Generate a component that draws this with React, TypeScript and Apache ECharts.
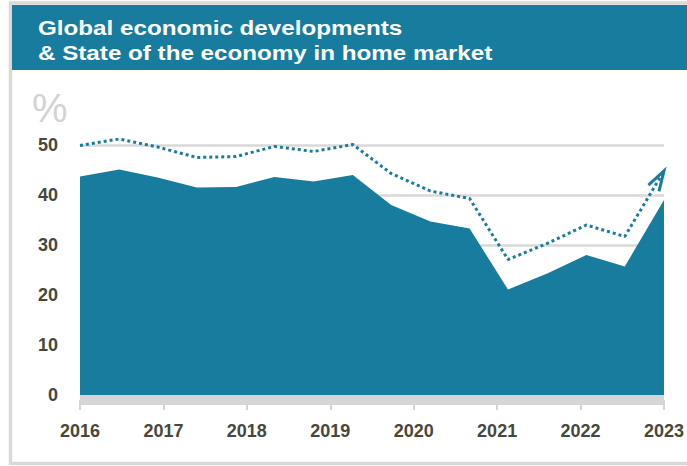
import React, { useEffect, useRef } from "react";
import * as echarts from "echarts";

const titleLines = ["Global economic developments", "& State of the economy in home market"];
const unitLabel = "%";
const yearTicks = [2016, 2017, 2018, 2019, 2020, 2021, 2022, 2023];
const surveyDates = [
  2016, 2016.47, 2016.93, 2017.4, 2017.87, 2018.33, 2018.8, 2019.27,
  2019.73, 2020.2, 2020.67, 2021.13, 2021.6, 2022.07, 2022.53, 2023,
];
const homeMarket = [43.7, 45.1, 43.5, 41.5, 41.6, 43.6, 42.7, 44, 38, 34.7, 33.3, 21.1, 24.3, 28, 25.7, 39];
const globalEconomy = [49.9, 51.2, 49.6, 47.5, 47.7, 49.7, 48.7, 50.1, 44.3, 40.8, 39.3, 27.1, 30.3, 34, 31.7, 44.8];

const TEAL = "#177c9d";
const LABEL = "#48473b";
const FONT = "'Liberation Sans', Arial, sans-serif";

export default function App() {
  const ref = useRef<HTMLDivElement>(null);
  useEffect(() => {
    document.body.style.margin = "0";
    if (!ref.current) return;
    const chart = echarts.init(ref.current, undefined, { renderer: "svg" });
    const n = surveyDates.length;
    const option: any = {
      animation: false,
      backgroundColor: "#ffffff",
      grid: { left: 80, right: 21, top: 145, bottom: 71, containLabel: false },
      xAxis: {
        type: "value",
        min: yearTicks[0],
        max: yearTicks[yearTicks.length - 1],
        interval: 1,
        offset: 5,
        axisLine: { show: true, onZero: false, lineStyle: { color: "#d5d5d5", width: 10, cap: "butt" } },
        axisTick: { show: true, length: 10, lineStyle: { color: "#d5d5d5", width: 2 } },
        splitLine: { show: false },
        axisLabel: {
          color: LABEL,
          fontFamily: FONT,
          fontWeight: "bold",
          fontSize: 18,
          margin: 22,
          showMinLabel: true,
          showMaxLabel: true,
          formatter: (v: number) => String(Math.round(v)),
        },
      },
      yAxis: {
        type: "value",
        min: 0,
        max: 50,
        interval: 10,
        axisLine: { show: false },
        axisTick: { show: false },
        splitLine: { show: true, lineStyle: { color: "#d9d9d9", width: 2.5 } },
        axisLabel: {
          color: LABEL,
          fontFamily: FONT,
          fontWeight: "bold",
          fontSize: 18,
          margin: 22,
        },
      },
      graphic: [
        {
          type: "rect",
          silent: true,
          shape: { x: 10.5, y: 3, width: 700, height: 460.5 },
          style: { fill: "none", stroke: "#d9d9d9", lineWidth: 3.5 },
          z: -10,
        },
        {
          type: "rect",
          silent: true,
          shape: { x: 12, y: 5, width: 690, height: 65 },
          style: { fill: TEAL },
          z: -9,
        },
        {
          type: "text",
          silent: true,
          x: 38,
          y: 28.7,
          scaleX: 1.21,
          style: {
            text: titleLines[0],
            fill: "#ffffff",
            font: `bold 20px ${FONT}`,
            textAlign: "left",
            textVerticalAlign: "middle",
          },
        },
        {
          type: "text",
          silent: true,
          x: 38,
          y: 53,
          scaleX: 1.21,
          style: {
            text: titleLines[1],
            fill: "#ffffff",
            font: `bold 20px ${FONT}`,
            textAlign: "left",
            textVerticalAlign: "middle",
          },
        },
        {
          type: "text",
          silent: true,
          x: 32,
          y: 108,
          style: {
            text: unitLabel,
            fill: "#d3d3d3",
            font: `normal 40px ${FONT}`,
            textAlign: "left",
            textVerticalAlign: "middle",
          },
        },
      ],
      series: [
        {
          name: "State of the economy in home market",
          type: "line",
          data: surveyDates.map((d, i) => [d, homeMarket[i]]),
          showSymbol: false,
          symbol: "none",
          lineStyle: { width: 0 },
          areaStyle: { color: TEAL, opacity: 1 },
          z: 2,
        },
        {
          name: "Global economic developments",
          type: "line",
          data: surveyDates.map((d, i) => [d, globalEconomy[i]]),
          showSymbol: false,
          symbol: "none",
          clip: false,
          lineStyle: { width: 3, color: TEAL, type: [3, 3], cap: "butt" },
          z: 3,
        },
        {
          type: "custom",
          clip: false,
          z: 4,
          data: [[surveyDates[n - 1], globalEconomy[n - 1]]],
          renderItem: (_params: any, api: any) => {
            const tip = api.coord([api.value(0), api.value(1)]);
            const prev = api.coord([surveyDates[n - 2], globalEconomy[n - 2]]);
            const back = Math.atan2(prev[1] - tip[1], prev[0] - tip[0]);
            const len = 21;
            const spread = (17 * Math.PI) / 180;
            const a1 = [tip[0] + len * Math.cos(back + spread), tip[1] + len * Math.sin(back + spread)];
            const a2 = [tip[0] + len * Math.cos(back - spread), tip[1] + len * Math.sin(back - spread)];
            return {
              type: "polyline",
              shape: { points: [a1, tip, a2] },
              style: { stroke: TEAL, lineWidth: 3, fill: "none" },
            };
          },
        },
      ],
    };
    chart.setOption(option);
    return () => chart.dispose();
  }, []);
  return <div ref={ref} style={{ width: 687, height: 466 }} />;
}
